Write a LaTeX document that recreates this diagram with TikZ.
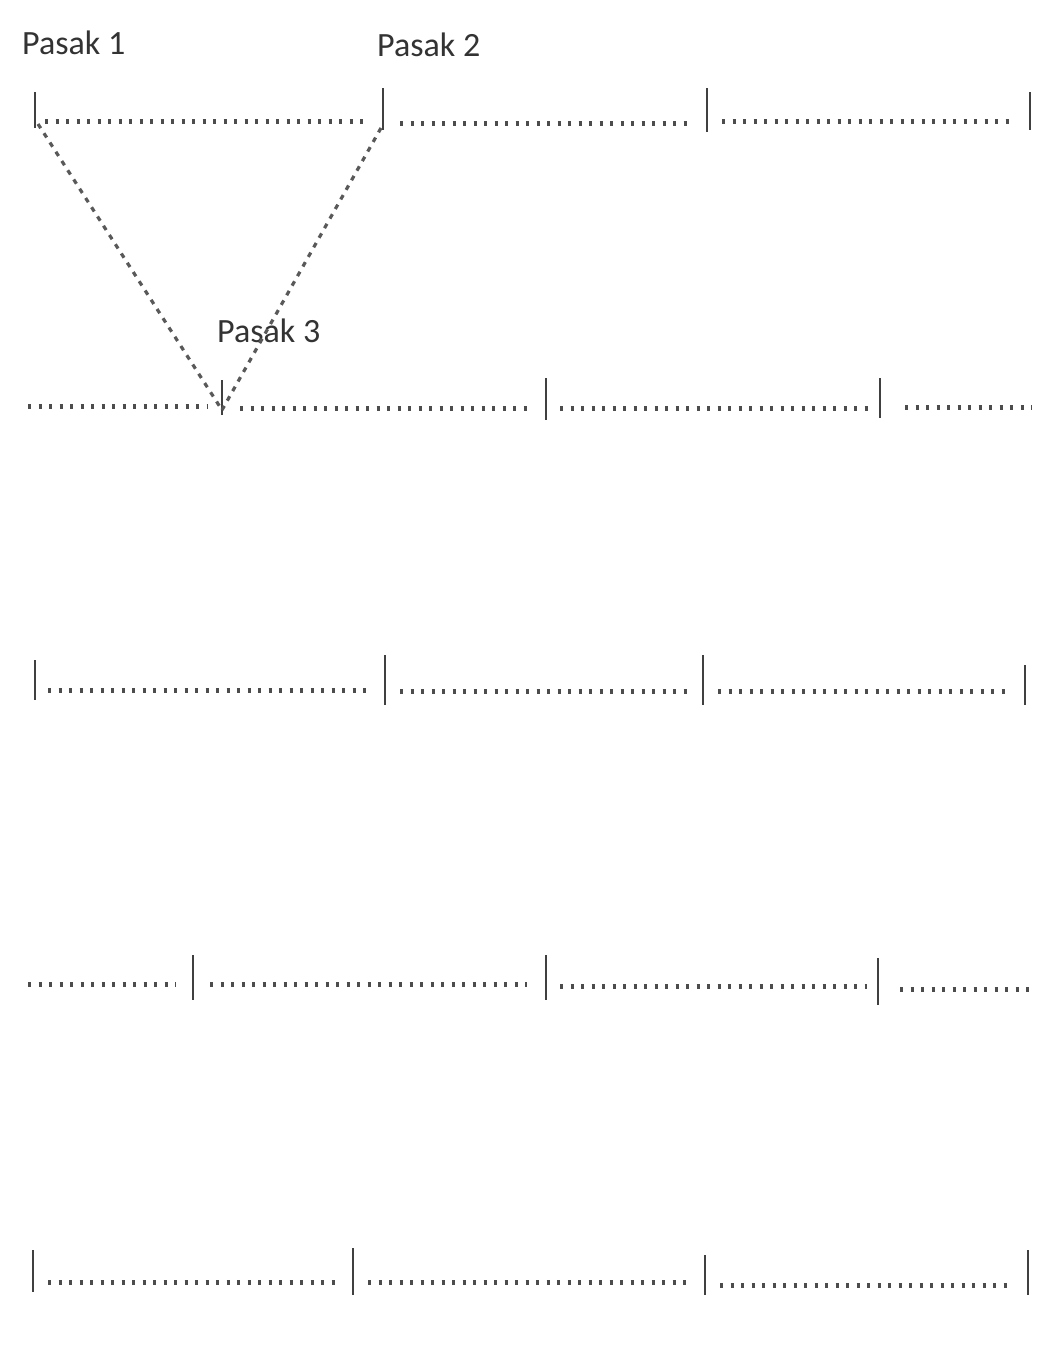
\documentclass[tikz,border=0pt]{standalone}
\usepackage{fontspec}
\setmainfont{Carlito}
\begin{document}
\begin{tikzpicture}[x=1pt,y=-1pt,
  peg/.style={line width=2.8pt,draw=black!75},
  rope/.style={line width=5pt,draw=black!70,dash pattern=on 3pt off 7.5pt},
  sight/.style={line width=3.2pt,draw=black!65,dash pattern=on 5pt off 6pt},
  lbl/.style={font=\fontsize{34}{36}\selectfont,text=black!80,inner sep=0pt,anchor=west}]
\useasboundingbox (0,0) rectangle (1048,1349);
% labels
\node[lbl] (p1) at (22,43) {Pasak 1};
\node[lbl] (p2) at (377,45) {Pasak 2};
\node[lbl] (p3) at (217,331) {Pasak 3};
% row 1
\coordinate (a1t) at (35,92);  \coordinate (a1b) at (35,128);
\coordinate (a2t) at (383,88); \coordinate (a2b) at (383,130);
\coordinate (a3t) at (707,88); \coordinate (a3b) at (707,132);
\coordinate (a4t) at (1030,92);\coordinate (a4b) at (1030,130);
\draw[peg] (a1t) -- (a1b); \draw[peg] (a2t) -- (a2b);
\draw[peg] (a3t) -- (a3b); \draw[peg] (a4t) -- (a4b);
\draw[rope] (45,121) -- (368,121);
\draw[rope] (400,123) -- (690,123);
\draw[rope] (722,121) -- (1012,121);
% row 2
\coordinate (b1t) at (222,380); \coordinate (b1b) at (222,415);
\coordinate (b2t) at (546,378); \coordinate (b2b) at (546,420);
\coordinate (b3t) at (880,378); \coordinate (b3b) at (880,418);
\draw[peg] (b1t) -- (b1b); \draw[peg] (b2t) -- (b2b); \draw[peg] (b3t) -- (b3b);
\draw[rope] (28,406) -- (208,406);
\draw[rope] (240,408) -- (528,408);
\draw[rope] (560,408) -- (870,408);
\draw[rope] (905,407) -- (1032,407);
% sight lines to Pasak 3
\coordinate (s1) at (38,124); \coordinate (s2) at (381,128); \coordinate (s3) at (222,410);
\draw[sight] (s1) -- (s3);
\draw[sight] (s2) -- (s3);
% row 3
\coordinate (c1t) at (35,660);  \coordinate (c1b) at (35,700);
\coordinate (c2t) at (385,655); \coordinate (c2b) at (385,705);
\coordinate (c3t) at (703,655); \coordinate (c3b) at (703,705);
\coordinate (c4t) at (1025,665);\coordinate (c4b) at (1025,705);
\draw[peg] (c1t) -- (c1b); \draw[peg] (c2t) -- (c2b);
\draw[peg] (c3t) -- (c3b); \draw[peg] (c4t) -- (c4b);
\draw[rope] (48,690) -- (367,690);
\draw[rope] (400,691) -- (687,691);
\draw[rope] (718,691) -- (1007,691);
% row 4
\coordinate (d1t) at (193,955); \coordinate (d1b) at (193,1000);
\coordinate (d2t) at (546,955); \coordinate (d2b) at (546,1000);
\coordinate (d3t) at (878,958); \coordinate (d3b) at (878,1005);
\draw[peg] (d1t) -- (d1b); \draw[peg] (d2t) -- (d2b); \draw[peg] (d3t) -- (d3b);
\draw[rope] (28,984) -- (176,984);
\draw[rope] (210,984) -- (527,984);
\draw[rope] (560,986) -- (867,986);
\draw[rope] (900,989) -- (1032,989);
% row 5
\coordinate (e1t) at (33,1250);  \coordinate (e1b) at (33,1292);
\coordinate (e2t) at (353,1248); \coordinate (e2b) at (353,1295);
\coordinate (e3t) at (705,1255); \coordinate (e3b) at (705,1295);
\coordinate (e4t) at (1028,1250);\coordinate (e4b) at (1028,1295);
\draw[peg] (e1t) -- (e1b); \draw[peg] (e2t) -- (e2b);
\draw[peg] (e3t) -- (e3b); \draw[peg] (e4t) -- (e4b);
\draw[rope] (48,1282) -- (336,1282);
\draw[rope] (368,1282) -- (686,1282);
\draw[rope] (720,1285) -- (1012,1285);
\end{tikzpicture}
\end{document}
